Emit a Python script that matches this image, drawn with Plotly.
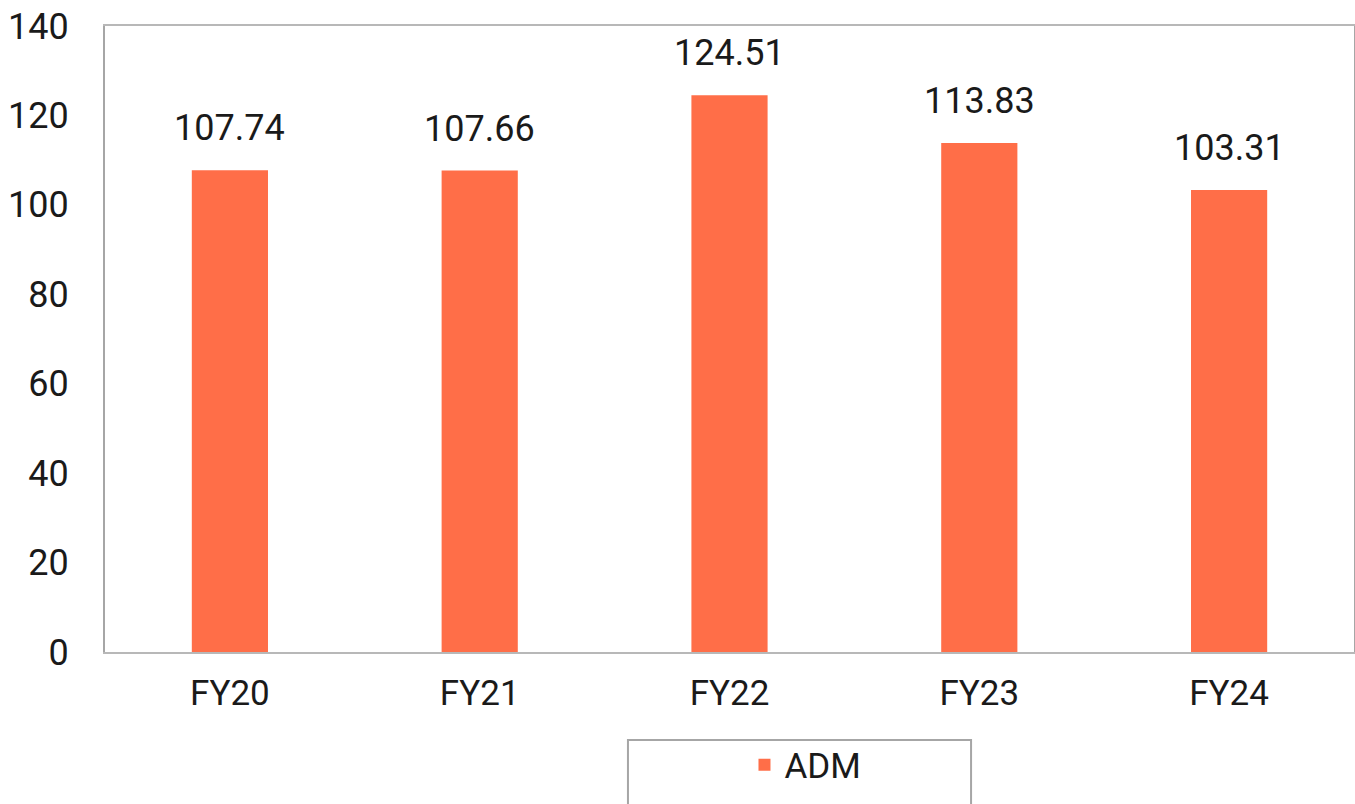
import plotly.graph_objects as go

categories = ["FY20", "FY21", "FY22", "FY23", "FY24"]
adm_values = [107.74, 107.66, 124.51, 113.83, 103.31]
label_texts = ["107.74", "107.66", "124.51", "113.83", "103.31"]
y_ticks = [0, 20, 40, 60, 80, 100, 120, 140]

BAR = "#FF6E48"
TXT = "#1a1a1a"
FONT = "Roboto, Arial, sans-serif"

fig = go.Figure()
fig.add_trace(go.Bar(
    x=categories, y=adm_values, name="ADM",
    marker=dict(color=BAR, line=dict(width=0)),
    width=0.305,
))

for c, v, t in zip(categories, adm_values, label_texts):
    fig.add_annotation(x=c, y=v, text=t, showarrow=False, yanchor="bottom",
                       yshift=19, font=dict(family=FONT, size=36, color=TXT))

# legend frame
fig.add_shape(type="rect", xref="paper", yref="paper",
              x0=0.4187, x1=0.6934, y0=-0.26, y1=-0.1406,
              line=dict(color="#a6a6a6", width=2), fillcolor="white", layer="below")

fig.update_layout(
    width=1355, height=804,
    margin=dict(l=105, r=1, t=26, b=152, autoexpand=False),
    paper_bgcolor="white", plot_bgcolor="white",
    font=dict(family=FONT, color=TXT),
    showlegend=True,
    legend=dict(orientation="h", x=0.512, xanchor="left", y=-0.1805, yanchor="middle",
                font=dict(family=FONT, size=35, color=TXT), bgcolor="rgba(0,0,0,0)",
                itemwidth=30),
    bargap=0.7,
)
fig.update_xaxes(showline=True, linecolor="#b8b8b8", linewidth=2, mirror=True,
                 showgrid=False, ticks="", tickfont=dict(family=FONT, size=35, color=TXT),
                 ticklabelstandoff=9, automargin=False)
fig.update_yaxes(range=[0, 140], tickvals=y_ticks, showline=True, linecolor="#a6a6a6",
                 linewidth=2, mirror=True, showgrid=False, zeroline=False, ticks="",
                 tickfont=dict(family=FONT, size=36, color=TXT), ticklabelstandoff=27,
                 automargin=False)

post = ("document.body.style.margin='0';document.body.style.overflow='hidden';"
        "var gd=document.getElementById('{plot_id}');"
        "Plotly.relayout(gd,{width:1355,height:804});")
fig.write_html("out.html", post_script=post, config={"displayModeBar": False})
